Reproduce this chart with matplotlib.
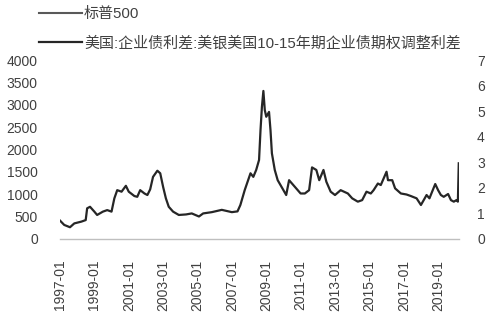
import numpy as np
import pandas as pd
import matplotlib
matplotlib.use('Agg')
import matplotlib.pyplot as plt
import matplotlib.dates as mdates

plt.rcParams['font.family'] = ['Liberation Sans', 'Noto Sans CJK SC']
plt.rcParams['axes.unicode_minus'] = False

# data (spread, %, right axis)
dates = ['1997-01', '1997-04', '1997-08', '1997-11', '1998-04', '1998-07', '1998-08',
         '1998-10', '1999-01', '1999-03', '1999-07', '1999-10', '2000-01', '2000-03',
         '2000-05', '2000-08', '2000-11', '2001-01', '2001-05', '2001-07', '2001-09',
         '2001-12', '2002-02', '2002-04', '2002-06', '2002-09', '2002-11', '2003-01',
         '2003-03', '2003-05', '2003-08', '2003-12', '2004-05', '2004-09', '2005-02',
         '2005-05', '2005-11', '2006-06', '2007-01', '2007-05', '2007-07', '2007-10',
         '2008-02', '2008-04', '2008-06', '2008-08', '2008-09', '2008-10', '2008-11',
         '2008-12', '2009-01', '2009-03', '2009-04', '2009-05', '2009-07', '2009-09',
         '2010-01', '2010-03', '2010-05', '2010-09', '2011-01', '2011-04', '2011-07',
         '2011-09', '2011-12', '2012-02', '2012-05', '2012-07', '2012-10', '2013-01',
         '2013-05', '2013-10', '2014-01', '2014-05', '2014-08', '2014-11', '2015-02',
         '2015-04', '2015-07', '2015-09', '2016-01', '2016-02', '2016-05', '2016-07',
         '2016-11', '2017-03', '2017-06', '2017-10', '2018-01', '2018-03', '2018-05',
         '2018-07', '2018-11', '2019-01', '2019-03', '2019-05', '2019-08', '2019-10',
         '2019-12', '2020-01-25', '2020-02-25', '2020-03-15']
spread = [0.72, 0.55, 0.46, 0.61, 0.68, 0.74, 1.20,
          1.26, 1.07, 0.94, 1.07, 1.13, 1.07, 1.59,
          1.91, 1.85, 2.08, 1.85, 1.68, 1.65, 1.91,
          1.78, 1.72, 1.94, 2.43, 2.67, 2.57, 2.04,
          1.59, 1.26, 1.07, 0.94, 0.96, 1.00, 0.88,
          1.00, 1.05, 1.14, 1.05, 1.08, 1.33, 1.91,
          2.57, 2.43, 2.70, 3.09, 4.26, 5.17, 5.79,
          5.04, 4.78, 4.97, 4.26, 3.35, 2.70, 2.30,
          1.91, 1.72, 2.30, 2.04, 1.78, 1.78, 1.91,
          2.80, 2.70, 2.30, 2.70, 2.24, 1.85, 1.72,
          1.91, 1.78, 1.59, 1.46, 1.52, 1.85, 1.78,
          1.91, 2.17, 2.11, 2.63, 2.30, 2.30, 1.98,
          1.78, 1.74, 1.68, 1.59, 1.33, 1.52, 1.72,
          1.59, 2.15, 1.91, 1.72, 1.65, 1.76, 1.52,
          1.46, 1.52, 1.46, 2.96]
x = pd.to_datetime(dates, format='mixed')

tick_dates = pd.to_datetime(['%d-01-01' % y for y in range(1997, 2021, 2)])

fig = plt.figure(figsize=(4.92, 3.26), dpi=100)
ax = fig.add_axes([60/492, 1-239/326, 399/492, 179/326])
ax2 = ax.twinx()

txt = '#404040'
sp, = ax.plot([], [], color='#595959', lw=1.5, label='标普500')
ln, = ax2.plot(x, spread, color='#262626', lw=1.6,
               label='美国:企业债利差:美银美国10-15年期企业债期权调整利差')

ax.set_ylim(0, 4000)
ax.set_yticks(np.arange(0, 4001, 500))
ax2.set_ylim(0, 7)
ax2.set_yticks(np.arange(0, 8, 1))
ax.set_xlim(pd.Timestamp('1997-01-01'), pd.Timestamp('2020-03-20'))
ax.set_xticks(tick_dates)
ax.xaxis.set_major_formatter(mdates.DateFormatter('%Y-%m'))

for a in (ax, ax2):
    for s in ['top', 'left', 'right']:
        a.spines[s].set_visible(False)
    a.spines['bottom'].set_color('#bfbfbf')
    a.spines['bottom'].set_linewidth(1)
    a.tick_params(length=0, labelsize=10, colors=txt)
ax2.spines['bottom'].set_visible(False)
ax.tick_params(axis='y', pad=16)
ax2.tick_params(axis='y', pad=13)
ax.tick_params(axis='x', pad=15)
plt.setp(ax.get_xticklabels(), rotation=90)

fig.legend(handles=[sp, ln], loc='upper left', bbox_to_anchor=(39/492, 1-7/326),
           frameon=False, fontsize=10.8, handlelength=2.87, handletextpad=0.13,
           labelspacing=1.0, borderpad=0, borderaxespad=0, labelcolor=txt)

fig.savefig('out.png', dpi=100)
